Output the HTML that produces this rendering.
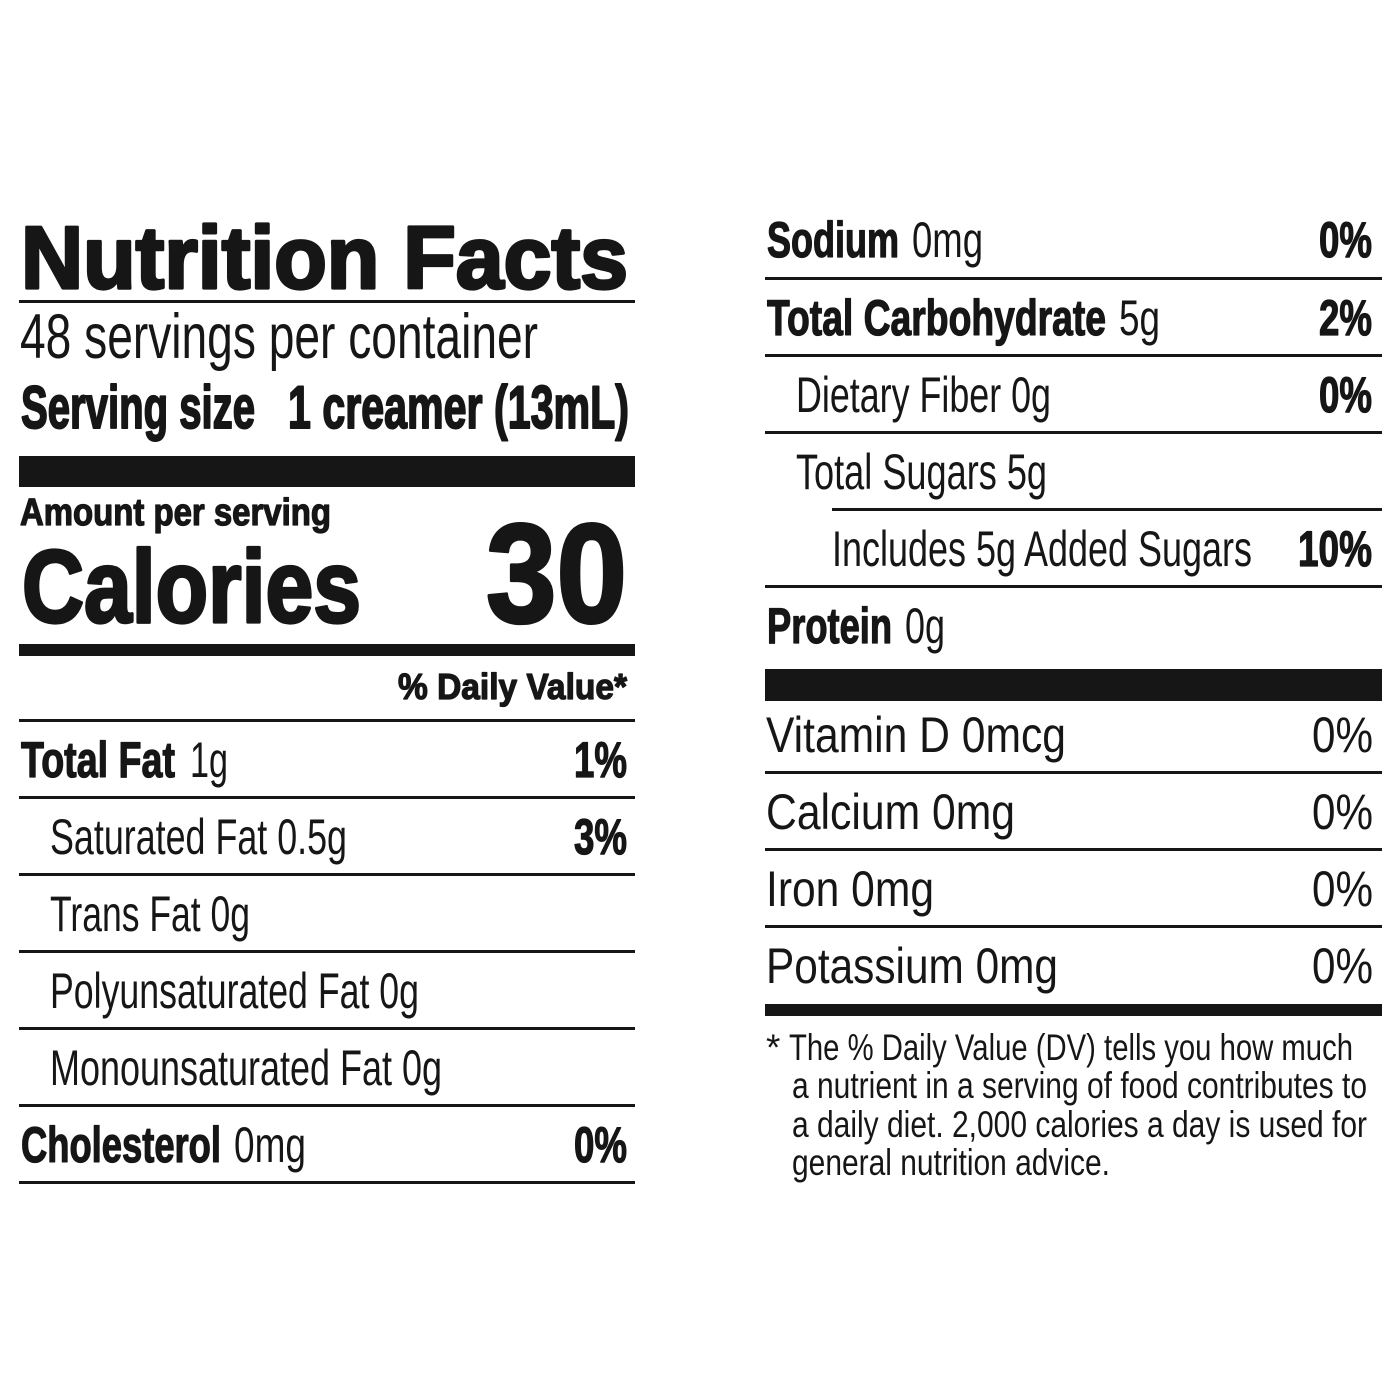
<!DOCTYPE html>
<html>
<head>
<meta charset="utf-8">
<style>
  html, body { margin: 0; padding: 0; background: #fff; }
  svg { display: block; }
  text { font-family: "Liberation Sans", Arial, sans-serif; fill: #161616; }
  .b { font-weight: bold; stroke: #161616; stroke-width: 1.3; stroke-linejoin: round; }
  .h { font-weight: bold; stroke: #161616; stroke-width: 3.2; stroke-linejoin: round; }
  .m { font-weight: bold; stroke: #161616; stroke-width: 2; stroke-linejoin: round; }
</style>
</head>
<body>
<svg width="1400" height="1400" viewBox="0 0 1400 1400" xmlns="http://www.w3.org/2000/svg">
  <rect x="0" y="0" width="1400" height="1400" fill="#fff"/>
  <g fill="#161616">
    <!-- left column rules -->
    <rect x="19" y="300" width="616" height="3"/>
    <rect x="19" y="456" width="616" height="31"/>
    <rect x="19" y="644" width="616" height="12"/>
    <rect x="19" y="719" width="616" height="3"/>
    <rect x="19" y="796" width="616" height="3"/>
    <rect x="19" y="873" width="616" height="3"/>
    <rect x="19" y="950" width="616" height="3"/>
    <rect x="19" y="1027" width="616" height="3"/>
    <rect x="19" y="1104" width="616" height="3"/>
    <rect x="19" y="1181" width="616" height="3"/>
    <!-- right column rules -->
    <rect x="765" y="277" width="617" height="3"/>
    <rect x="765" y="354" width="617" height="3"/>
    <rect x="765" y="431" width="617" height="3"/>
    <rect x="832" y="508" width="550" height="3"/>
    <rect x="765" y="585" width="617" height="3"/>
    <rect x="765" y="669" width="617" height="32"/>
    <rect x="765" y="771" width="617" height="3"/>
    <rect x="765" y="848" width="617" height="3"/>
    <rect x="765" y="925" width="617" height="3"/>
    <rect x="765" y="1004" width="617" height="12"/>
  </g>

  <!-- Left column -->
  <text class="h" x="21" y="288" font-size="88" textLength="607" lengthAdjust="spacingAndGlyphs">Nutrition Facts</text>
  <text x="20" y="358" font-size="63" textLength="518" lengthAdjust="spacingAndGlyphs">48 servings per container</text>
  <text class="m" x="21" y="428" font-size="60" textLength="234" lengthAdjust="spacingAndGlyphs">Serving size</text>
  <text class="m" x="288" y="428" font-size="60" textLength="341" lengthAdjust="spacingAndGlyphs">1 creamer (13mL)</text>

  <text class="b" x="20" y="525" font-size="38" textLength="311" lengthAdjust="spacingAndGlyphs">Amount per serving</text>
  <text class="h" x="22" y="622" font-size="103" textLength="339" lengthAdjust="spacingAndGlyphs">Calories</text>
  <text class="h" x="486" y="622" font-size="141" textLength="141" lengthAdjust="spacingAndGlyphs">30</text>

  <text class="b" x="398" y="699" font-size="36" textLength="229" lengthAdjust="spacingAndGlyphs">% Daily Value*</text>

  <text class="b" x="21" y="777" font-size="50" textLength="154" lengthAdjust="spacingAndGlyphs">Total Fat</text>
  <text x="190" y="777" font-size="50" textLength="38" lengthAdjust="spacingAndGlyphs">1g</text>
  <text class="b" x="574" y="777" font-size="50" textLength="53" lengthAdjust="spacingAndGlyphs">1%</text>

  <text x="50" y="854" font-size="50" textLength="297" lengthAdjust="spacingAndGlyphs">Saturated Fat 0.5g</text>
  <text class="b" x="574" y="854" font-size="50" textLength="53" lengthAdjust="spacingAndGlyphs">3%</text>

  <text x="50" y="931" font-size="50" textLength="200" lengthAdjust="spacingAndGlyphs">Trans Fat 0g</text>

  <text x="50" y="1008" font-size="50" textLength="369" lengthAdjust="spacingAndGlyphs">Polyunsaturated Fat 0g</text>

  <text x="50" y="1085" font-size="50" textLength="392" lengthAdjust="spacingAndGlyphs">Monounsaturated Fat 0g</text>

  <text class="b" x="21" y="1162" font-size="50" textLength="200" lengthAdjust="spacingAndGlyphs">Cholesterol</text>
  <text x="234" y="1162" font-size="50" textLength="72" lengthAdjust="spacingAndGlyphs">0mg</text>
  <text class="b" x="574" y="1162" font-size="50" textLength="53" lengthAdjust="spacingAndGlyphs">0%</text>

  <!-- Right column -->
  <text class="b" x="767" y="257" font-size="50" textLength="132" lengthAdjust="spacingAndGlyphs">Sodium</text>
  <text x="912" y="257" font-size="50" textLength="71" lengthAdjust="spacingAndGlyphs">0mg</text>
  <text class="b" x="1319" y="257" font-size="50" textLength="53" lengthAdjust="spacingAndGlyphs">0%</text>

  <text class="b" x="767" y="335" font-size="50" textLength="339" lengthAdjust="spacingAndGlyphs">Total Carbohydrate</text>
  <text x="1119" y="335" font-size="50" textLength="41" lengthAdjust="spacingAndGlyphs">5g</text>
  <text class="b" x="1319" y="335" font-size="50" textLength="53" lengthAdjust="spacingAndGlyphs">2%</text>

  <text x="796" y="412" font-size="50" textLength="255" lengthAdjust="spacingAndGlyphs">Dietary Fiber 0g</text>
  <text class="b" x="1319" y="412" font-size="50" textLength="53" lengthAdjust="spacingAndGlyphs">0%</text>

  <text x="796" y="489" font-size="50" textLength="251" lengthAdjust="spacingAndGlyphs">Total Sugars 5g</text>

  <text x="832" y="566" font-size="50" textLength="420" lengthAdjust="spacingAndGlyphs">Includes 5g Added Sugars</text>
  <text class="b" x="1298" y="566" font-size="50" textLength="74" lengthAdjust="spacingAndGlyphs">10%</text>

  <text class="b" x="767" y="643" font-size="50" textLength="125" lengthAdjust="spacingAndGlyphs">Protein</text>
  <text x="905" y="643" font-size="50" textLength="40" lengthAdjust="spacingAndGlyphs">0g</text>

  <text x="766" y="752" font-size="50" textLength="300" lengthAdjust="spacingAndGlyphs">Vitamin D 0mcg</text>
  <text x="1312" y="752" font-size="50" textLength="61" lengthAdjust="spacingAndGlyphs">0%</text>

  <text x="766" y="829" font-size="50" textLength="249" lengthAdjust="spacingAndGlyphs">Calcium 0mg</text>
  <text x="1312" y="829" font-size="50" textLength="61" lengthAdjust="spacingAndGlyphs">0%</text>

  <text x="766" y="906" font-size="50" textLength="168" lengthAdjust="spacingAndGlyphs">Iron 0mg</text>
  <text x="1312" y="906" font-size="50" textLength="61" lengthAdjust="spacingAndGlyphs">0%</text>

  <text x="766" y="983" font-size="50" textLength="292" lengthAdjust="spacingAndGlyphs">Potassium 0mg</text>
  <text x="1312" y="983" font-size="50" textLength="61" lengthAdjust="spacingAndGlyphs">0%</text>

  <!-- footnote -->
  <text x="766" y="1060" font-size="37">*</text>
  <text x="789" y="1060" font-size="37" textLength="564" lengthAdjust="spacingAndGlyphs">The % Daily Value (DV) tells you how much</text>
  <text x="792" y="1098" font-size="37" textLength="575" lengthAdjust="spacingAndGlyphs">a nutrient in a serving of food contributes to</text>
  <text x="792" y="1137" font-size="37" textLength="575" lengthAdjust="spacingAndGlyphs">a daily diet. 2,000 calories a day is used for</text>
  <text x="792" y="1175" font-size="37" textLength="318" lengthAdjust="spacingAndGlyphs">general nutrition advice.</text>
</svg>
</body>
</html>
